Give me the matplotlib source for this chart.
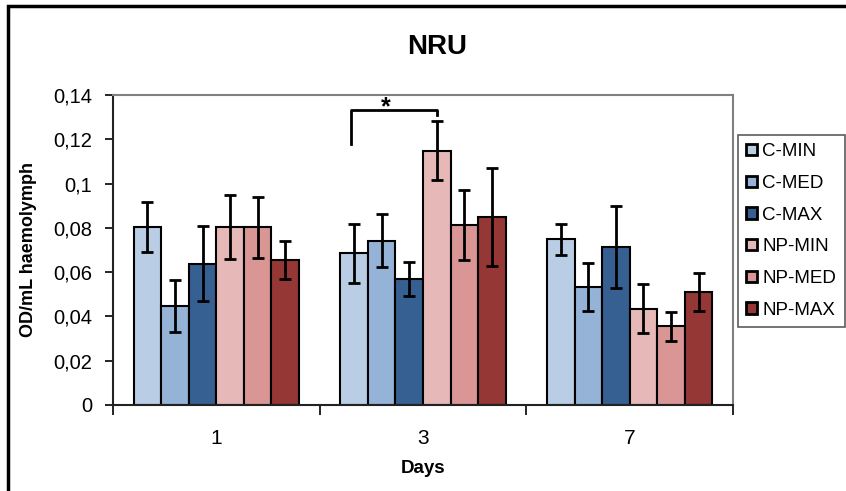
import numpy as np
import matplotlib.pyplot as plt
from matplotlib.patches import Rectangle

days = ["1", "3", "7"]
groups = ["C-MIN", "C-MED", "C-MAX", "NP-MIN", "NP-MED", "NP-MAX"]
colors = ["#B9CDE5", "#95B3D7", "#376092", "#E6B9B8", "#D99694", "#953735"]

# mean OD per group, one value per day (1, 3, 7)
c_min = [0.0805, 0.0685, 0.0748]
c_med = [0.0446, 0.0742, 0.0533]
c_max = [0.0638, 0.0569, 0.0715]
np_min = [0.0803, 0.1149, 0.0435]
np_med = [0.0803, 0.0813, 0.0355]
np_max = [0.0655, 0.0848, 0.0510]

# error bars
c_min_err = [0.0112, 0.0134, 0.0070]
c_med_err = [0.0118, 0.0119, 0.0107]
c_max_err = [0.0170, 0.0076, 0.0185]
np_min_err = [0.0145, 0.0134, 0.0111]
np_med_err = [0.0137, 0.0160, 0.0065]
np_max_err = [0.0087, 0.0222, 0.0085]

means = [c_min, c_med, c_max, np_min, np_med, np_max]
errs = [c_min_err, c_med_err, c_max_err, np_min_err, np_med_err, np_max_err]

plt.rcParams["font.family"] = ["Liberation Sans", "DejaVu Sans"]

fig = plt.figure(figsize=(8.46, 4.91), dpi=100)
ax = fig.add_axes([0.1336, 0.1752, 0.7328, 0.6313])

x = np.arange(len(days))
w = 0.8 / len(groups)
for i, (m, e, c, g) in enumerate(zip(means, errs, colors, groups)):
    pos = x - 0.4 + w * (i + 0.5)
    ax.bar(pos, m, width=w, color=c, edgecolor="black", linewidth=1.5,
           label=g, zorder=2)
    ax.errorbar(pos, m, yerr=e, fmt="none", ecolor="black", elinewidth=2,
                capsize=4.5, capthick=2, zorder=3)

ax.set_xlim(-0.5, 2.5)
ax.set_ylim(0, 0.14)
ax.set_yticks(np.arange(0, 0.141, 0.02))
ax.set_yticklabels(["0", "0,02", "0,04", "0,06", "0,08", "0,1", "0,12", "0,14"])
ax.set_xticks(x)
ax.set_xticklabels(days)
ax.set_xticks([-0.5, 0.5, 1.5, 2.5], minor=True)
ax.tick_params(axis="x", which="major", length=0, pad=17, labelsize=15)
ax.tick_params(axis="x", which="minor", length=7, width=1.2, direction="out")
ax.tick_params(axis="y", length=6, width=1.2, direction="out", labelsize=14.5,
               pad=9)

for s in ["top", "right"]:
    ax.spines[s].set_color("#808080")
    ax.spines[s].set_linewidth(1.5)
for s in ["left", "bottom"]:
    ax.spines[s].set_color("#222222")
    ax.spines[s].set_linewidth(1.5)

ax.set_xlabel("Days", fontsize=13.5, fontweight="bold", labelpad=9)
ax.set_ylabel("OD/mL haemolymph", fontsize=13, fontweight="bold", labelpad=12)

# significance bracket between C-MIN and NP-MIN on day 3
xl = 1 - 0.4 + w * 0.5 - 0.015
xr = 1 - 0.4 + w * 3.5
ax.plot([xl, xl, xr, xr], [0.1180, 0.1332, 0.1332, 0.1310], color="black",
        linewidth=2, clip_on=False, zorder=4)
ax.text((xl + xr) / 2 - 0.04, 0.1292, "*", ha="center", va="bottom",
        fontsize=18, fontweight="bold")

fig.text(437 / 846, 1 - 47 / 491, "NRU", ha="center", va="center",
         fontsize=20, fontweight="bold")

leg = fig.legend(loc="upper left", bbox_to_anchor=(738 / 846, 1 - 135 / 491),
                 fontsize=13.5, frameon=True, fancybox=False, edgecolor="#333333",
                 handlelength=0.55, handleheight=0.55, handletextpad=0.3,
                 labelspacing=0.78, borderpad=0.45, borderaxespad=0)
leg.get_frame().set_linewidth(1.2)
for h in leg.legend_handles:
    h.set_linewidth(2)

# outer frame of the original figure
fig.patches.append(Rectangle((8 / 846, -0.05), 1.2, 1.05 - 6 / 491,
                             transform=fig.transFigure, fill=False,
                             edgecolor="black", linewidth=2.5))

fig.savefig("out.png", dpi=100)
